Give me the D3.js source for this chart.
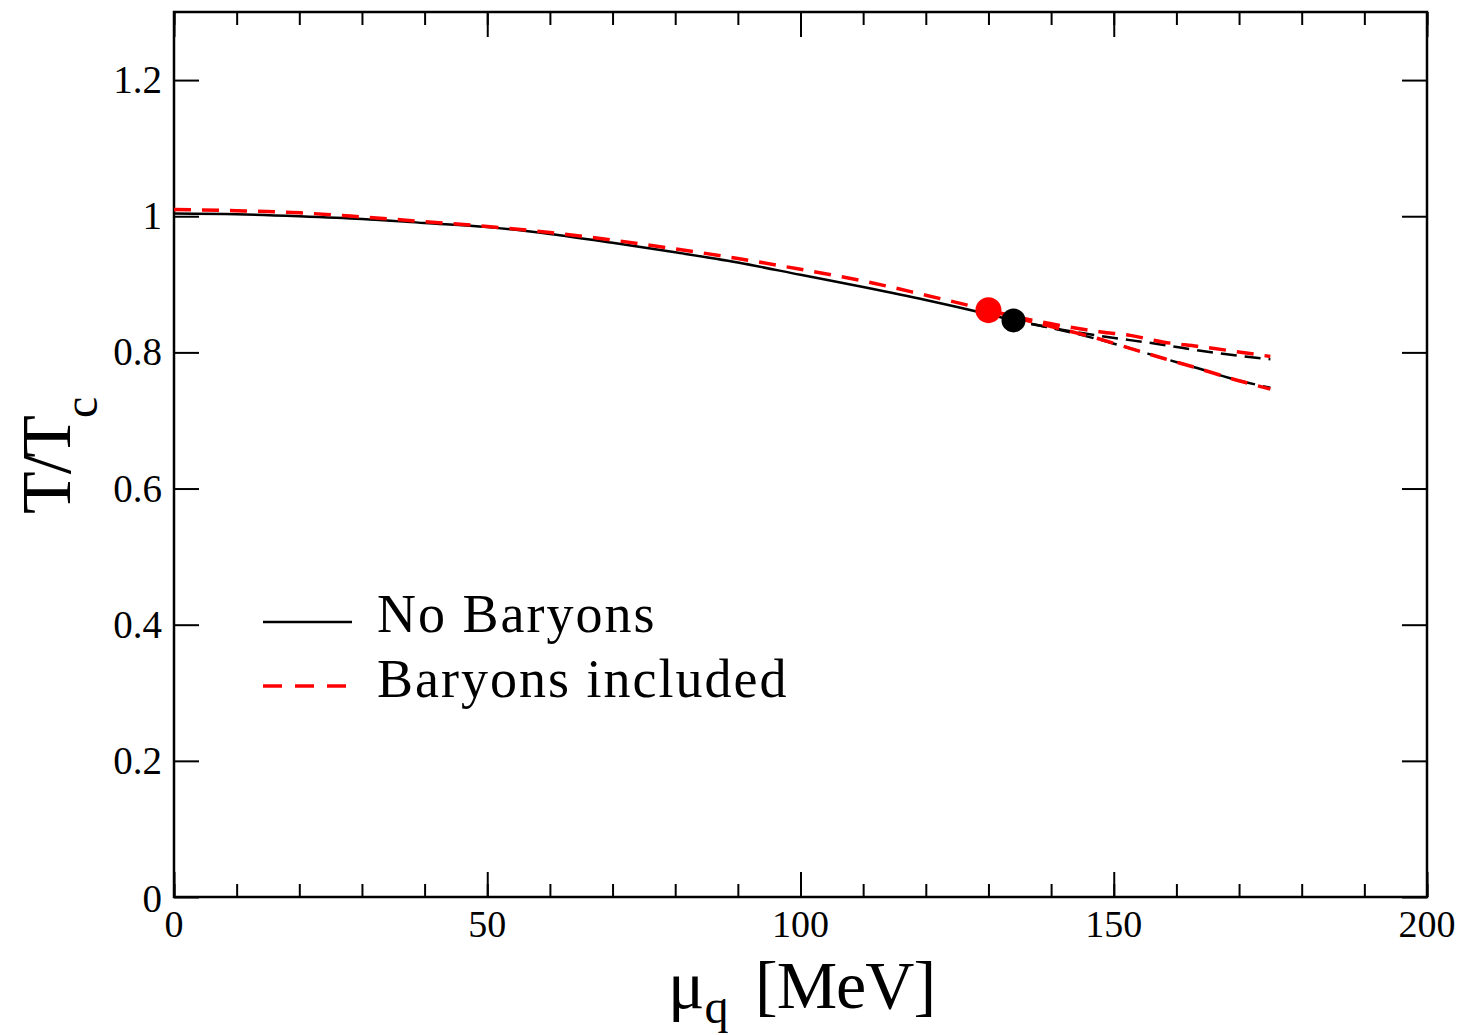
<!DOCTYPE html>
<html>
<head>
<meta charset="utf-8">
<script src="https://cdn.jsdelivr.net/npm/d3@7"></script>
<style>
  body { margin: 0; background: #fff; }
  text { font-family: "Liberation Serif", "Times New Roman", serif; fill: #000; }
</style>
</head>
<body>
<script>
// data: mu_q [MeV], T/Tc
var noBarMu   = [0, 10, 20, 30, 40, 50, 60, 70, 80, 90, 100, 110, 120, 130, 134];
var noBarT    = [1.004, 1.003, 1.000, 0.996, 0.990, 0.984, 0.974, 0.961, 0.947, 0.932, 0.914, 0.896, 0.877, 0.856, 0.847];
var noBarUpMu = [134, 140, 148, 152.6, 158, 163.3, 175];
var noBarUpT  = [0.847, 0.836, 0.824, 0.818, 0.811, 0.803, 0.790];
var noBarLoMu = [134, 140, 148, 152.6, 158, 163.3, 168.6, 175];
var noBarLoT  = [0.847, 0.836, 0.818, 0.806, 0.791, 0.777, 0.762, 0.748];

var barMu   = [0, 10, 20, 30, 40, 50, 60, 70, 80, 90, 100, 110, 120, 130];
var barT    = [1.010, 1.008, 1.005, 0.999, 0.992, 0.985, 0.976, 0.965, 0.952, 0.938, 0.922, 0.905, 0.884, 0.862];
var barUpMu = [130, 134, 140, 148, 152.6, 158, 163.3, 175];
var barUpT  = [0.862, 0.853, 0.842, 0.830, 0.825, 0.815, 0.809, 0.794];
var barLoMu = [130, 134, 140, 148, 152.6, 158, 163.3, 168.6, 175];
var barLoT  = [0.862, 0.852, 0.838, 0.819, 0.806, 0.791, 0.777, 0.762, 0.746];

var critMu = [134, 130];
var critT  = [0.847, 0.862];
var critColor = ["#000", "#ff0000"];

var legendNames = ["No Baryons", "Baryons included"];

var margin = {top: 12, right: 38, bottom: 138, left: 174},
    w = 1465 - margin.left - margin.right,
    h = 1035 - margin.top - margin.bottom;

var svg = d3.select("body")
            .append("svg")
            .attr("width", 1465)
            .attr("height", 1035);

var g = svg.append("g")
           .attr("transform", "translate(" + margin.left + "," + margin.top + ")");

var x = d3.scaleLinear().domain([0, 200]).range([0, w]);
var y = d3.scaleLinear().domain([0, 1.3]).range([h, 0]);

function pts(mu, t) { return mu.map(function(d, i) { return [d, t[i]]; }); }

var line = d3.line()
             .x(function(d) { return x(d[0]); })
             .y(function(d) { return y(d[1]); })
             .curve(d3.curveMonotoneX);

// ---------- axes (ticks on all four sides, pointing inward) ----------
function styleAxis(sel) {
    sel.select(".domain").remove();
    sel.selectAll("line").attr("stroke", "#000").attr("stroke-width", 2);
    sel.selectAll("text").remove();
}

var xMinor = d3.range(0, 201, 10);
var xMajor = d3.range(0, 201, 50);
var yMajor = d3.range(0, 1.21, 0.2);

g.append("g").attr("transform", "translate(0," + h + ")")
    .call(d3.axisTop(x).tickValues(xMinor).tickSize(13)).call(styleAxis);
g.append("g").attr("transform", "translate(0," + h + ")")
    .call(d3.axisTop(x).tickValues(xMajor).tickSize(25)).call(styleAxis);
g.append("g")
    .call(d3.axisBottom(x).tickValues(xMinor).tickSize(13)).call(styleAxis);
g.append("g")
    .call(d3.axisBottom(x).tickValues(xMajor).tickSize(25)).call(styleAxis);
g.append("g")
    .call(d3.axisRight(y).tickValues(yMajor).tickSize(25)).call(styleAxis);
g.append("g").attr("transform", "translate(" + w + ",0)")
    .call(d3.axisLeft(y).tickValues(yMajor).tickSize(25)).call(styleAxis);

g.append("rect")
    .attr("width", w).attr("height", h)
    .attr("fill", "none").attr("stroke", "#000").attr("stroke-width", 2.5);

// tick labels
g.selectAll(".xlab")
    .data(xMajor)
    .enter().append("text")
    .attr("x", function(d) { return x(d); })
    .attr("y", h + 40)
    .attr("text-anchor", "middle")
    .style("font-size", "38px")
    .text(function(d) { return d; });

g.selectAll(".ylab")
    .data(yMajor)
    .enter().append("text")
    .attr("x", -12)
    .attr("y", function(d) { return y(d) + (d === 0 ? 15 : 13); })
    .attr("text-anchor", "end")
    .style("font-size", "39px")
    .text(function(d) { return d === 0 ? "0" : d3.format("~g")(+d.toFixed(1)); });

// axis titles
var xt = svg.append("text")
    .attr("x", 668)
    .attr("y", 1008)
    .style("font-size", "68px");
xt.append("tspan").text("\u03bc");
xt.append("tspan").attr("dy", 15).style("font-size", "48px").text("q");
xt.append("tspan").attr("x", 755).attr("dy", -15).style("letter-spacing", "-1px").text("[MeV]");

var yt = svg.append("text")
    .attr("transform", "translate(70,514) rotate(-90)")
    .style("font-size", "70px");
yt.append("tspan").style("letter-spacing", "-3px").text("T/T");
yt.append("tspan").attr("dy", 27).style("font-size", "48px").text("c");

// ---------- curves ----------
var curves = g.append("g");

curves.append("path").datum(pts(noBarMu, noBarT))
    .attr("d", line).attr("fill", "none").attr("stroke", "#000").attr("stroke-width", 2.5);
[[noBarUpMu, noBarUpT], [noBarLoMu, noBarLoT]].forEach(function(s) {
    curves.append("path").datum(pts(s[0], s[1]))
        .attr("d", line).attr("fill", "none").attr("stroke", "#000")
        .attr("stroke-width", 2.5).attr("stroke-dasharray", "16,8")
        .attr("stroke-dashoffset", 6);
});

[[barMu, barT], [barUpMu, barUpT], [barLoMu, barLoT]].forEach(function(s) {
    curves.append("path").datum(pts(s[0], s[1]))
        .attr("d", line).attr("fill", "none").attr("stroke", "#ff0000")
        .attr("stroke-width", 3.5).attr("stroke-dasharray", "17,11");
});

// critical points
g.selectAll(".crit")
    .data(critMu)
    .enter().append("circle")
    .attr("cx", function(d) { return x(d); })
    .attr("cy", function(d, i) { return y(critT[i]); })
    .attr("r", function(d, i) { return i === 0 ? 12 : 13; })
    .attr("fill", function(d, i) { return critColor[i]; });

// ---------- legend ----------
var legend = svg.append("g");
legend.selectAll("line")
    .data(legendNames)
    .enter().append("line")
    .attr("x1", 263).attr("x2", 352)
    .attr("y1", function(d, i) { return 622 + i * 64; })
    .attr("y2", function(d, i) { return 622 + i * 64; })
    .attr("stroke", function(d, i) { return i === 0 ? "#000" : "#ff0000"; })
    .attr("stroke-width", function(d, i) { return i === 0 ? 2.5 : 3.5; })
    .attr("stroke-dasharray", function(d, i) { return i === 0 ? null : "19,13"; });

legend.selectAll("text")
    .data(legendNames)
    .enter().append("text")
    .attr("x", 377)
    .attr("y", function(d, i) { return 632 + i * 65; })
    .style("font-size", "54px")
    .style("letter-spacing", "2px")
    .text(function(d) { return d; });
</script>
</body>
</html>
